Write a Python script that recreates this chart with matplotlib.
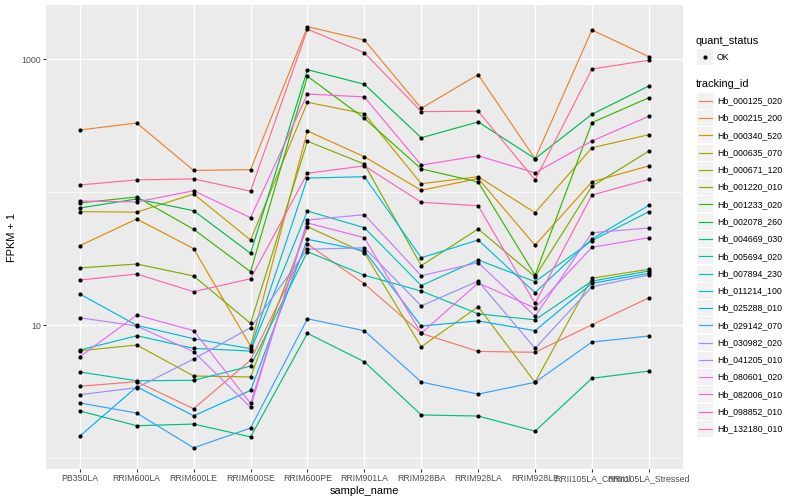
import matplotlib
matplotlib.use('Agg')
import matplotlib.pyplot as plt
from matplotlib.lines import Line2D
from matplotlib.patches import Rectangle
from matplotlib.ticker import FixedLocator, NullFormatter

plt.rcParams['font.family'] = ['Liberation Sans', 'DejaVu Sans']

samples = ['PB350LA', 'RRIM600LA', 'RRIM600LE', 'RRIM600SE', 'RRIM600PE', 'RRIM901LA',
           'RRIM928BA', 'RRIM928LA', 'RRIM928LE', 'RRII105LA_Control', 'RRII105LA_Stressed']

tracking_ids = ['Hb_000125_020', 'Hb_000215_200', 'Hb_000340_520', 'Hb_000635_070',
                'Hb_000671_120', 'Hb_001220_010', 'Hb_001233_020', 'Hb_002078_260',
                'Hb_004669_030', 'Hb_005694_020', 'Hb_007894_230', 'Hb_011214_100',
                'Hb_025288_010', 'Hb_029142_070', 'Hb_030982_020', 'Hb_041205_010',
                'Hb_080601_020', 'Hb_082006_010', 'Hb_098852_010', 'Hb_132180_010']

# ggplot hue palette, 20 levels
colors = ['#F8766D', '#EA8331', '#D89000', '#C09B00', '#A3A500', '#7CAE00', '#39B600',
          '#00BB4E', '#00BF7D', '#00C1A3', '#00BFC4', '#00BAE0', '#00B0F6', '#35A2FF',
          '#9590FF', '#C77CFF', '#E76BF3', '#FA62DB', '#FF62BC', '#FF6C91']

# FPKM + 1, one list per gene, in sample order
hb_000125_020 = [3.48, 3.77, 2.36, 5.48, 40.8, 20.5, 8.71, 6.37, 6.27, 10.1, 16.1]
hb_000215_200 = [294, 332, 146, 148, 1758, 1397, 428, 766, 179, 1660, 1046]
hb_000340_520 = [39.7, 63.0, 37.7, 6.99, 289, 185, 103.5, 127, 40.0, 120, 158]
hb_000635_070 = [71.5, 71.0, 97.1, 43.8, 475, 390, 116, 131, 70.3, 216, 271]
hb_000671_120 = [6.44, 7.11, 4.16, 4.09, 55.1, 35.2, 6.90, 13.8, 3.73, 22.6, 26.4]
hb_001220_010 = [27.0, 28.9, 23.5, 10.35, 242, 163, 28.1, 53.0, 23.2, 111, 204]
hb_001233_020 = [83.2, 92.2, 52.7, 25.3, 745, 360, 150, 119.5, 23.8, 334, 514]
hb_002078_260 = [76.2, 89.1, 72.7, 34.8, 835, 649, 257, 338, 179, 386, 630]
hb_004669_030 = [2.27, 1.76, 1.81, 1.45, 8.71, 5.32, 2.12, 2.08, 1.60, 4.00, 4.53]
hb_005694_020 = [4.46, 3.83, 3.86, 4.94, 35.8, 23.8, 18.1, 12.2, 11.0, 21.5, 25.6]
hb_007894_230 = [6.52, 8.35, 6.71, 6.41, 72.3, 54.2, 19.9, 31.0, 21.3, 43.3, 71.5]
hb_011214_100 = [17.2, 10.0, 7.93, 6.67, 128, 131, 32.2, 43.8, 17.6, 44.6, 79.8]
hb_025288_010 = [1.47, 3.45, 2.09, 3.24, 44.3, 36.4, 9.88, 10.8, 9.11, 20.7, 24.6]
hb_029142_070 = [2.61, 2.19, 1.20, 1.69, 11.2, 9.11, 3.75, 3.04, 3.73, 7.49, 8.31]
hb_030982_020 = [3.01, 3.40, 5.58, 9.59, 37.3, 38.3, 14.0, 21.5, 6.71, 19.5, 23.9]
hb_041205_010 = [11.4, 9.88, 6.33, 2.42, 61.9, 67.9, 23.6, 29.6, 11.7, 49.7, 53.9]
hb_080601_020 = [5.81, 11.95, 9.11, 2.59, 58.8, 45.6, 8.71, 20.8, 13.5, 38.6, 45.6]
hb_082006_010 = [86.0, 84.6, 102.8, 64.4, 548, 521, 160, 188, 140, 243, 373]
hb_098852_010 = [21.9, 24.3, 17.9, 22.4, 139, 158, 84.1, 79.3, 14.6, 95.4, 125]
hb_132180_010 = [113.5, 124, 126, 102, 1681, 1121, 404, 407, 124, 845, 983]

series = [hb_000125_020, hb_000215_200, hb_000340_520, hb_000635_070, hb_000671_120,
          hb_001220_010, hb_001233_020, hb_002078_260, hb_004669_030, hb_005694_020,
          hb_007894_230, hb_011214_100, hb_025288_010, hb_029142_070, hb_030982_020,
          hb_041205_010, hb_080601_020, hb_082006_010, hb_098852_010, hb_132180_010]

W, H = 800, 500
fig = plt.figure(figsize=(8, 5), dpi=100)
fx = lambda px: px / W
fy = lambda py: 1 - py / H

# panel in pixel coords
ax = fig.add_axes([fx(45.7), fy(469), fx(683) - fx(45.7), fy(5) - fy(469)])
ax.set_facecolor('#EBEBEB')
for s in ax.spines.values():
    s.set_visible(False)

xs = list(range(len(samples)))
for vals, col in zip(series, colors):
    ax.plot(xs, vals, color=col, lw=0.85, zorder=3)
for vals in series:
    ax.plot(xs, vals, 'o', color='black', ms=3.0, mew=0, zorder=4)

ax.set_yscale('log')
ax.set_ylim(10 ** -0.080, 10 ** 3.408)
ax.set_xlim(-0.6, 10.6)
ax.yaxis.set_major_locator(FixedLocator([10, 1000]))
ax.set_yticklabels(['10', '1000'])
ax.yaxis.set_minor_locator(FixedLocator([1, 100]))
ax.yaxis.set_minor_formatter(NullFormatter())
ax.set_xticks(xs)
ax.set_xticklabels(samples)

ax.grid(True, which='major', color='white', lw=1.0, zorder=0)
ax.grid(True, which='minor', axis='y', color='white', lw=0.5, zorder=0)
ax.set_axisbelow(True)
ax.tick_params(which='major', length=2.0, width=0.8, color='#333333',
               labelsize=6.3, labelcolor='#4D4D4D', pad=1.5)
ax.tick_params(which='minor', length=0)

ax.set_xlabel('sample_name', fontsize=7.9, labelpad=2)
ax.set_ylabel('FPKM + 1', fontsize=7.9, labelpad=3)

# legends, drawn by hand at ggplot positions
fig.text(fx(696), fy(40.7), 'quant_status', fontsize=7.9, va='center', ha='left')
fig.add_artist(Rectangle((fx(697), fy(65)), 16 / W, 16 / H, color='#F2F2F2',
                         transform=fig.transFigure, lw=0))
fig.add_artist(Line2D([fx(705)], [fy(57)], marker='o', color='black', ms=3.0, mew=0,
                      transform=fig.transFigure))
fig.text(fx(717), fy(57), 'OK', fontsize=6.3, va='center', ha='left')

fig.text(fx(696), fy(84.3), 'tracking_id', fontsize=7.9, va='center', ha='left')
for i, (name, col) in enumerate(zip(tracking_ids, colors)):
    cy = 100.7 + i * 17.28
    fig.add_artist(Rectangle((fx(697), fy(cy + 8)), 16 / W, 16 / H, color='#F2F2F2',
                             transform=fig.transFigure, lw=0))
    fig.add_artist(Line2D([fx(698.5), fx(711.5)], [fy(cy), fy(cy)], color=col, lw=0.85,
                          transform=fig.transFigure))
    fig.text(fx(717), fy(cy), name, fontsize=6.3, va='center', ha='left')

fig.savefig('out.png', dpi=100)
